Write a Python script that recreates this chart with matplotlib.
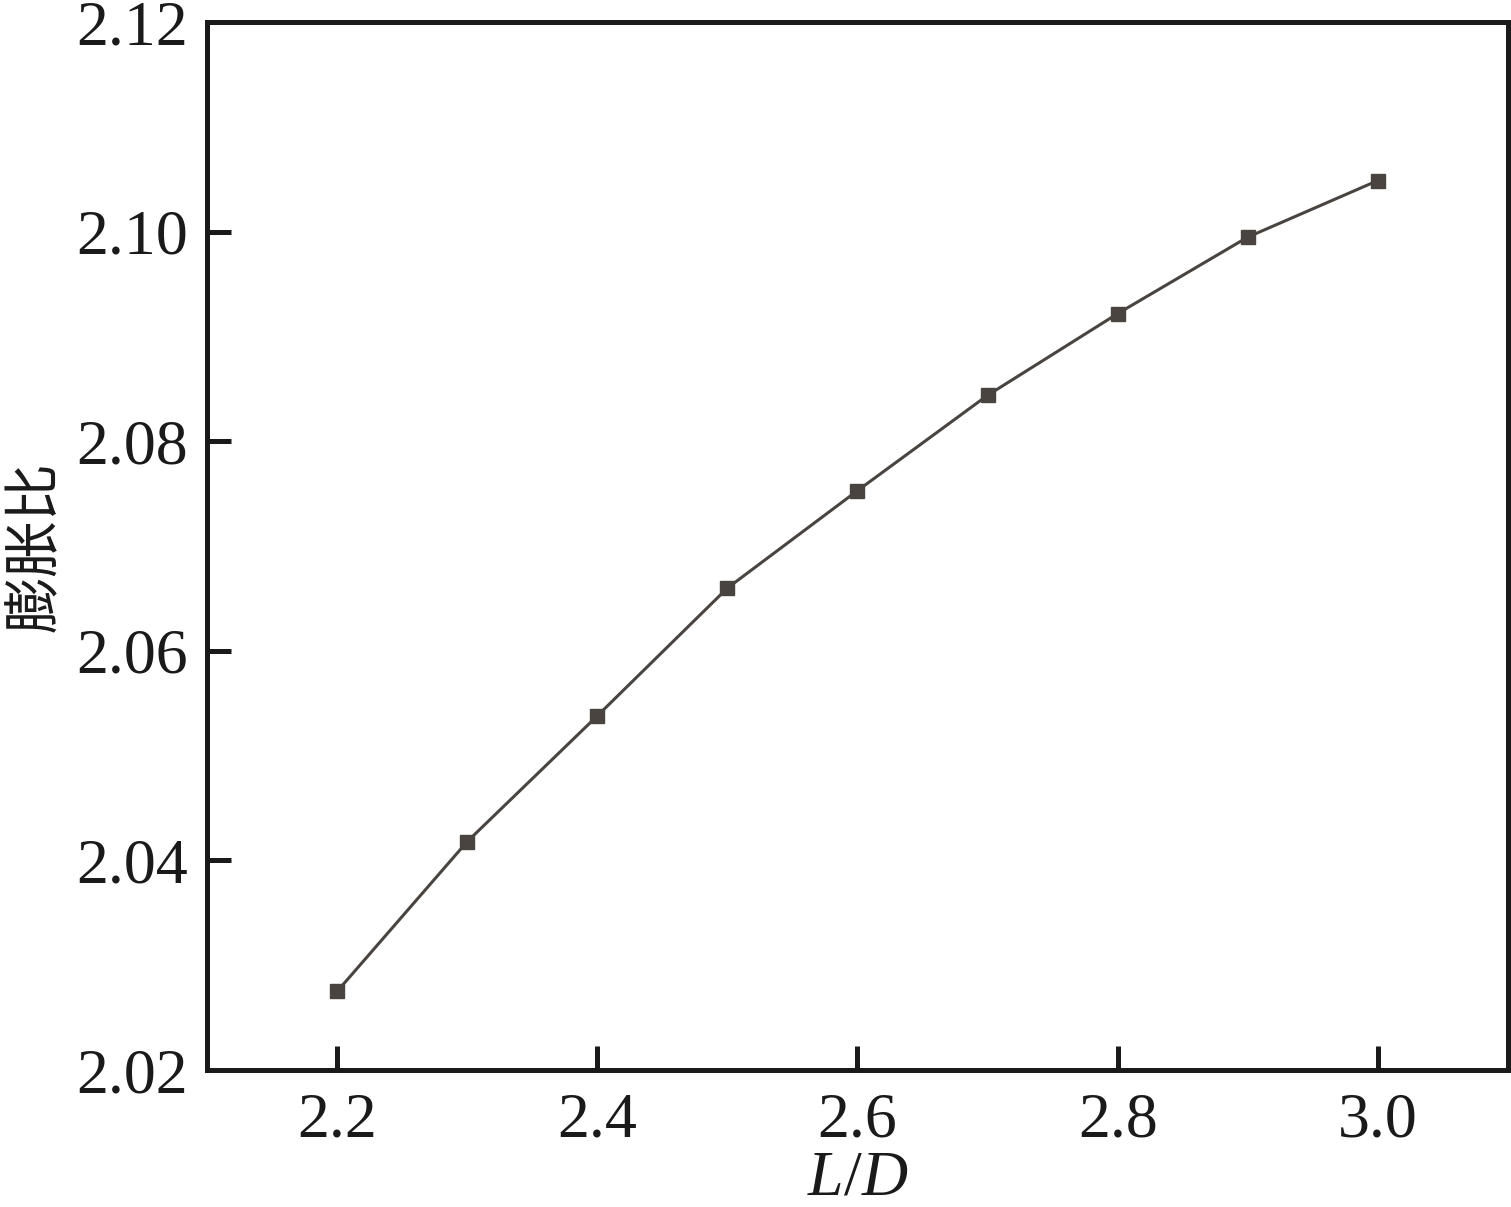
import matplotlib
matplotlib.use("Agg")
import matplotlib.pyplot as plt

# L/D vs expansion ratio
ld = [2.2, 2.3, 2.4, 2.5, 2.6, 2.7, 2.8, 2.9, 3.0]
ratio = [2.0275, 2.0418, 2.0538, 2.0660, 2.0753, 2.0844, 2.0922, 2.0995, 2.1049]

xticks = [2.2, 2.4, 2.6, 2.8, 3.0]
yticks = [2.02, 2.04, 2.06, 2.08, 2.10, 2.12]

plt.rcParams['font.family'] = ['Liberation Serif', 'Noto Sans CJK SC', 'DejaVu Sans']
plt.rcParams['mathtext.fontset'] = 'custom'
plt.rcParams['mathtext.it'] = 'Liberation Serif:italic'
plt.rcParams['mathtext.rm'] = 'Liberation Serif'

fig = plt.figure(figsize=(15.11, 12.07), dpi=100)
ax = fig.add_axes([0.137, 0.1135, 0.861, 0.868])

ax.plot(ld, ratio, color='#4a4441', lw=2.2, marker='s', markersize=9.5,
        markerfacecolor='#4a4441', markeredgecolor='#4a4441')

ax.set_xlim(2.1, 3.1)
ax.set_ylim(2.02, 2.12)
ax.set_xticks(xticks)
ax.set_xticklabels([f'{v:.1f}' for v in xticks])
ax.set_yticks(yticks)
ax.set_yticklabels([f'{v:.2f}' for v in yticks])

for s in ax.spines.values():
    s.set_linewidth(3.6)
    s.set_color('#1a1a1a')
ax.tick_params(direction='in', length=17, width=3.6, labelsize=46, color='#1a1a1a',
               labelcolor='#1a1a1a')
ax.tick_params(axis='x', pad=16)
ax.tick_params(axis='y', pad=14)

ax.set_xlabel('$L/D$', fontsize=46, color='#1a1a1a', labelpad=0)
ax.set_ylabel('膨胀比', fontsize=41, color='#1a1a1a', labelpad=8,
              family=['Noto Sans CJK SC', 'DejaVu Sans'])

fig.savefig('out.png', dpi=100)
